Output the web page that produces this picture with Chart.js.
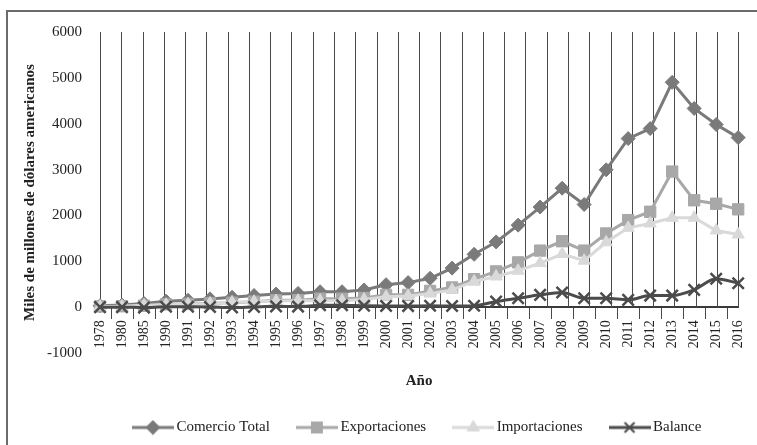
<!DOCTYPE html>
<html>
<head>
<meta charset="utf-8">
<title>Comercio</title>
<script src="https://cdn.jsdelivr.net/npm/chart.js@4.4.0/dist/chart.umd.min.js"></script>
<style>
  html, body { margin: 0; padding: 0; background: #fff; overflow: hidden; }
  #wrap { position: relative; width: 757px; height: 445px; overflow: hidden; }
  #frame { position: absolute; left: 6px; top: 10px; width: 800px; height: 500px;
           border-left: 2px solid #6b6b6b; border-top: 2px solid #6b6b6b; }
  canvas { position: absolute; left: 0; top: 0; }
</style>
</head>
<body>
<div id="wrap">
  <div id="frame"></div>
  <canvas id="chart" width="757" height="445"></canvas>
</div>
<script>
// data
const years = ["1978", "1980", "1985", "1990", "1991", "1992", "1993", "1994", "1995", "1996",
  "1997", "1998", "1999", "2000", "2001", "2002", "2003", "2004", "2005", "2006",
  "2007", "2008", "2009", "2010", "2011", "2012", "2013", "2014", "2015", "2016"];
const comercioTotal = [30, 45, 80, 130, 150, 180, 215, 255, 285, 300,
  335, 335, 375, 490, 535, 630, 851, 1152, 1422, 1788,
  2183, 2593, 2238, 2995, 3675, 3894, 4903, 4333, 3982, 3697];
const exportaciones = [15, 20, 30, 60, 70, 85, 95, 120, 150, 150,
  185, 185, 200, 268, 268, 355, 428, 610, 779, 976,
  1233, 1437, 1233, 1606, 1898, 2080, 2957, 2330, 2255, 2133];
const importaciones = [12, 20, 42, 53, 64, 81, 104, 116, 132, 139,
  142, 140, 166, 225, 244, 295, 377, 560, 669, 794,
  961, 1158, 1014, 1415, 1729, 1825, 1948, 1948, 1672, 1584];
const balance = [0, 0, -10, 9, 8, 4, -8, 5, 17, 12,
  40, 43, 29, 24, 23, 30, 25, 32, 121, 193,
  268, 318, 193, 193, 158, 252, 252, 377, 619, 522];
const yTicks = [-1000, 0, 1000, 2000, 3000, 4000, 5000, 6000];

const FONT = "'Liberation Serif', 'Times New Roman', serif";
const TEXT = "#222";

const series = [
  { label: "Comercio Total", data: comercioTotal, color: "#7a7a7a", style: "rectRot", radius: 7, order: 4 },
  { label: "Exportaciones", data: exportaciones, color: "#a8a8a8", style: "rect", radius: 8, order: 3 },
  { label: "Importaciones", data: importaciones, color: "#d9d9d9", style: "triangle", radius: 7, order: 2 },
  { label: "Balance", data: balance, color: "#4b4b4b", style: "crossRot", radius: 8, order: 1 },
];

// little line + marker images for the legend, like the spreadsheet legend
function legendImage(s) {
  const c = document.createElement("canvas");
  c.width = 42; c.height = 16;
  const g = c.getContext("2d");
  g.strokeStyle = s.color;
  g.fillStyle = s.color;
  g.lineWidth = 3;
  g.beginPath(); g.moveTo(0, 8); g.lineTo(42, 8); g.stroke();
  g.lineWidth = 2;
  Chart.helpers.drawPoint(g, { pointStyle: s.style, radius: s.radius - 1, borderWidth: 2, rotation: 0 }, 21, 8);
  return c;
}

// vertical lines between the categories, from the top down to the zero line
const columnLines = {
  id: "columnLines",
  beforeDatasetsDraw(chart) {
    const { ctx, chartArea, scales: { x, y } } = chart;
    const zero = y.getPixelForValue(0);
    const step = x.width / years.length;
    ctx.save();
    ctx.strokeStyle = "#4a4a4a";
    ctx.lineWidth = 1;
    for (let i = 0; i <= years.length; i++) {
      const px = Math.round(x.left + i * step) + 0.5;
      ctx.beginPath();
      ctx.moveTo(px, chartArea.top);
      ctx.lineTo(px, zero);
      ctx.stroke();
    }
    ctx.restore();
  },
};

// centre the legend (and its "Año" title) under the plot area
const legendUnderPlot = {
  id: "legendUnderPlot",
  afterLayout(chart) {
    if (!chart.legend) return;
    chart.legend.left = chart.chartArea.left;
    chart.legend.right = chart.chartArea.right;
  },
};

const ctx = document.getElementById("chart").getContext("2d");
new Chart(ctx, {
  type: "line",
  data: {
    labels: years,
    datasets: series.map((s) => ({
      label: s.label,
      data: s.data,
      order: s.order,
      borderColor: s.color,
      backgroundColor: s.color,
      borderWidth: 3,
      pointStyle: s.style,
      pointRadius: s.radius,
      pointHoverRadius: s.radius,
      pointBackgroundColor: s.color,
      pointBorderColor: s.color,
      pointBorderWidth: s.style === "crossRot" ? 2.5 : 1,
      tension: 0,
      cubicInterpolationMode: s.style === "crossRot" ? "monotone" : "default",
      fill: false,
    })),
  },
  options: {
    responsive: false,
    animation: false,
    layout: { padding: { left: 21, right: 9, top: 32, bottom: 0 } },
    scales: {
      x: {
        position: { y: 0 },
        grid: {
          offset: true,
          drawOnChartArea: false,
          drawTicks: true,
          tickLength: 11,
          color: "#4a4a4a",
        },
        border: { display: true, color: "#3a3a3a", width: 2 },
        ticks: {
          autoSkip: false,
          minRotation: 90,
          maxRotation: 90,
          padding: 2,
          color: TEXT,
          font: { family: FONT, size: 14 },
        },
      },
      y: {
        min: -1000,
        max: 6000,
        afterBuildTicks(axis) {
          axis.ticks = yTicks.map((v) => ({ value: v }));
        },
        afterFit(axis) {
          axis.width = 79; // title + labels + gap, as in the original
        },
        grid: { display: false, drawTicks: false },
        border: { display: false },
        ticks: {
          padding: 18,
          color: TEXT,
          font: { family: FONT, size: 15 },
          callback: (v) => String(v),
        },
        title: {
          display: true,
          text: "Miles de millones de dólares americanos",
          color: TEXT,
          font: { family: FONT, size: 15, weight: "bold" },
          padding: { top: 0, bottom: 8 },
        },
      },
    },
    plugins: {
      tooltip: { enabled: false },
      legend: {
        position: "bottom",
        align: "center",
        title: {
          display: true,
          text: "Año",
          color: TEXT,
          font: { family: FONT, size: 15, weight: "bold" },
          padding: { top: 21, bottom: -3 },
        },
        labels: {
          usePointStyle: true,
          pointStyleWidth: 32,
          padding: 31,
          color: TEXT,
          font: { family: FONT, size: 15 },
          generateLabels(chart) {
            return chart.data.datasets.map((ds, i) => ({
              text: ds.label,
              fillStyle: series[i].color,
              strokeStyle: series[i].color,
              lineWidth: 0,
              pointStyle: legendImage(series[i]),
              fontColor: TEXT,
              hidden: false,
              datasetIndex: i,
            }));
          },
        },
      },
    },
  },
  plugins: [columnLines, legendUnderPlot],
});
</script>
</body>
</html>
